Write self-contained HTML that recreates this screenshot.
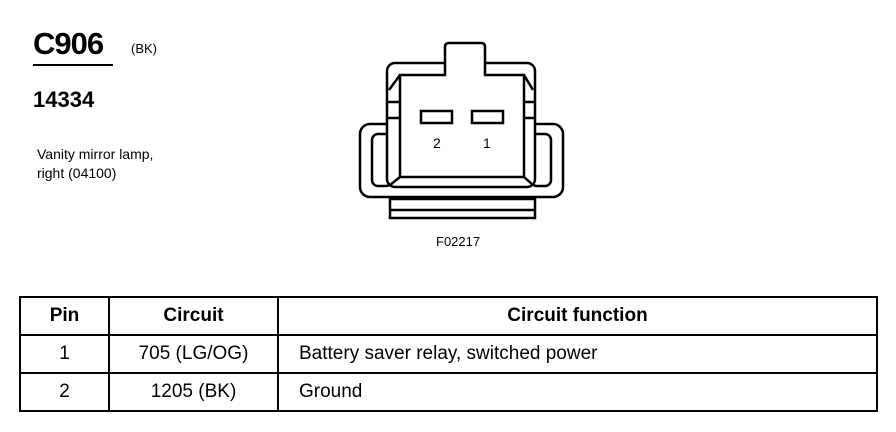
<!DOCTYPE html>
<html><head><style>
body{margin:0;width:896px;height:432px;background:#fff;font-family:"Liberation Sans",sans-serif;color:#000;position:relative;overflow:hidden}
.a{position:absolute;white-space:nowrap}
table{position:absolute;left:19px;top:296px;border-collapse:collapse;font-size:19px}
td{border:2px solid #000;height:36px;padding:0;text-align:center}
</style></head><body>
<div class="a" style="left:33px;top:26px;font-size:31px;font-weight:bold;letter-spacing:-1px">C906</div>
<div class="a" style="left:131px;top:41px;font-size:13px">(BK)</div>
<div class="a" style="left:33px;top:64px;width:80px;border-top:2px solid #000"></div>
<div class="a" style="left:33px;top:87px;font-size:22px;font-weight:bold">14334</div>
<div class="a" style="left:37px;top:145px;font-size:14px;line-height:19px">Vanity mirror lamp,<br>right (04100)</div>
<div class="a" style="left:436px;top:234px;font-size:13px">F02217</div>
<svg class="a" style="left:0;top:0" width="896" height="300" fill="none" stroke="#000" stroke-width="2.5">
<rect x="360" y="124" width="203" height="73" rx="10"/>
<rect x="372" y="134" width="20" height="52" rx="6"/>
<rect x="531" y="134" width="20" height="52" rx="6"/>
<rect x="387" y="63" width="148" height="124" rx="8" fill="#fff"/>
<path d="M400 177V75H445V47q0-4 4-4h32q4 0 4 4V75H524V177Z" fill="#fff"/>
<path d="M389 90L400 75M533 90L524 75M390 185L400 177M533 185L524 177"/>
<path d="M387 102H400M387 118H400M524 102H535M524 118H535"/>
<rect x="390" y="199" width="145" height="19"/>
<path d="M390 210H535"/>
<rect x="421" y="111" width="31" height="12"/>
<rect x="472" y="111" width="31" height="12"/>
<text x="433" y="148" font-size="14" fill="#000" stroke="none" font-family="Liberation Sans">2</text>
<text x="483" y="148" font-size="14" fill="#000" stroke="none" font-family="Liberation Sans">1</text>
</svg>
<table>
<tr style="font-weight:bold"><td style="width:87px">Pin</td><td style="width:167px">Circuit</td><td style="width:597px">Circuit function</td></tr>
<tr><td>1</td><td>705 (LG/OG)</td><td style="text-align:left;padding-left:20px">Battery saver relay, switched power</td></tr>
<tr><td>2</td><td>1205 (BK)</td><td style="text-align:left;padding-left:20px">Ground</td></tr>
</table>
</body></html>
